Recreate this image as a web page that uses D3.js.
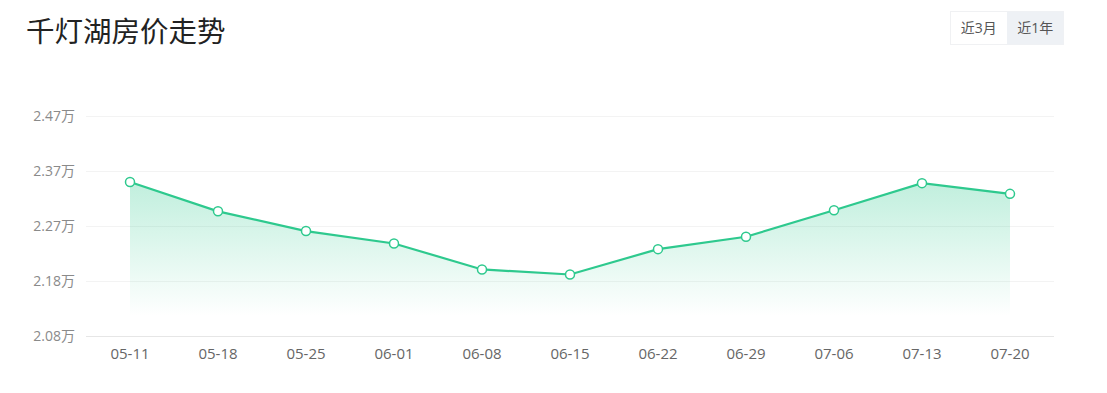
<!DOCTYPE html>
<html>
<head>
<meta charset="utf-8">
<script src="https://cdn.jsdelivr.net/npm/d3@7"></script>
<style>
  body { margin: 0; background: #fff; font-family: "Open Sans", "Noto Sans CJK SC", sans-serif; }
</style>
</head>
<body>
<div id="chart"></div>
<script>
// chart data
const dates = ["05-11", "05-18", "05-25", "06-01", "06-08", "06-15", "06-22", "06-29", "07-06", "07-13", "07-20"];
const prices = [23530, 23010, 22660, 22440, 21980, 21890, 22340, 22560, 23030, 23510, 23320];
const tickLabels = ["2.08万", "2.18万", "2.27万", "2.37万", "2.47万"];
const yMin = 20800;
const yMax = 24700;
const title = "千灯湖房价走势";
const buttons = ["近3月", "近1年"];

const width = 1107;
const height = 393;
const lineColor = "#2ec98e";

const svg = d3.select("#chart")
  .append("svg")
  .attr("width", width)
  .attr("height", height)
  .style("display", "block");

// title
svg.append("text")
  .attr("x", 26)
  .attr("y", 42)
  .attr("font-size", "28.5px")
  .attr("font-family", "Noto Sans CJK SC")
  .attr("fill", "#222")
  .text(title);

// period buttons (second one is active)
const btnW = 56.5, btnH = 33;
const btn = svg.append("g").attr("transform", "translate(950,11)");
btn.append("rect")
  .attr("x", 0.5).attr("y", 0.5)
  .attr("width", btnW * 2).attr("height", btnH)
  .attr("fill", "#fff")
  .attr("stroke", "#f0f1f3");
btn.selectAll("rect.b")
  .data(buttons)
  .enter().append("rect")
  .attr("class", "b")
  .attr("x", (d, i) => 0.5 + i * btnW)
  .attr("y", 0.5)
  .attr("width", btnW)
  .attr("height", btnH)
  .attr("fill", (d, i) => i === 1 ? "#eef1f5" : "none");
btn.selectAll("text")
  .data(buttons)
  .enter().append("text")
  .attr("x", (d, i) => 0.5 + i * btnW + btnW / 2)
  .attr("y", btnH / 2 + 5)
  .attr("text-anchor", "middle")
  .attr("font-size", "14px")
  .attr("fill", "#555")
  .text(d => d);

// scales
const x = d3.scalePoint()
  .domain(dates)
  .range([86, 1054])
  .padding(0.5);

const y = d3.scaleLinear()
  .domain([yMin, yMax])
  .range([336, 116]);

const tickValues = tickLabels.map((d, i) => yMin + i * (yMax - yMin) / (tickLabels.length - 1));

// grid lines
svg.append("g")
  .selectAll("line")
  .data(tickValues)
  .enter().append("line")
  .attr("x1", 86)
  .attr("x2", 1054)
  .attr("y1", d => Math.round(y(d)) + 0.5)
  .attr("y2", d => Math.round(y(d)) + 0.5)
  .attr("stroke", (d, i) => i === 0 ? "#e6e6e6" : "#f3f3f3");

// y axis labels
svg.append("g")
  .selectAll("text")
  .data(tickValues)
  .enter().append("text")
  .attr("x", 75)
  .attr("y", d => y(d) + 5)
  .attr("text-anchor", "end")
  .attr("font-size", "14px")
  .attr("fill", "#8a8a8a")
  .text((d, i) => tickLabels[i]);

// x axis labels
svg.append("g")
  .selectAll("text")
  .data(dates)
  .enter().append("text")
  .attr("x", d => x(d))
  .attr("y", 359)
  .attr("text-anchor", "middle")
  .attr("font-size", "15px")
  .attr("fill", "#666")
  .text(d => d);

// gradient for the area
const defs = svg.append("defs");
const grad = defs.append("linearGradient")
  .attr("id", "areaGrad")
  .attr("x1", 0).attr("y1", 0).attr("x2", 0).attr("y2", 1);
grad.append("stop").attr("offset", "0%").attr("stop-color", lineColor).attr("stop-opacity", 0.3);
grad.append("stop").attr("offset", "100%").attr("stop-color", lineColor).attr("stop-opacity", 0);

const series = dates.map((d, i) => ({ date: d, value: prices[i] }));

const area = d3.area()
  .x(d => x(d.date))
  .y0(y(yMin) - 20)
  .y1(d => y(d.value));

svg.append("path")
  .datum(series)
  .attr("d", area)
  .attr("fill", "url(#areaGrad)");

const line = d3.line()
  .x(d => x(d.date))
  .y(d => y(d.value));

svg.append("path")
  .datum(series)
  .attr("d", line)
  .attr("fill", "none")
  .attr("stroke", lineColor)
  .attr("stroke-width", 2.2);

// points
svg.append("g")
  .selectAll("circle")
  .data(series)
  .enter().append("circle")
  .attr("cx", d => x(d.date))
  .attr("cy", d => y(d.value))
  .attr("r", 4.5)
  .attr("fill", "#fff")
  .attr("stroke", lineColor)
  .attr("stroke-width", 1.5);
</script>
</body>
</html>
